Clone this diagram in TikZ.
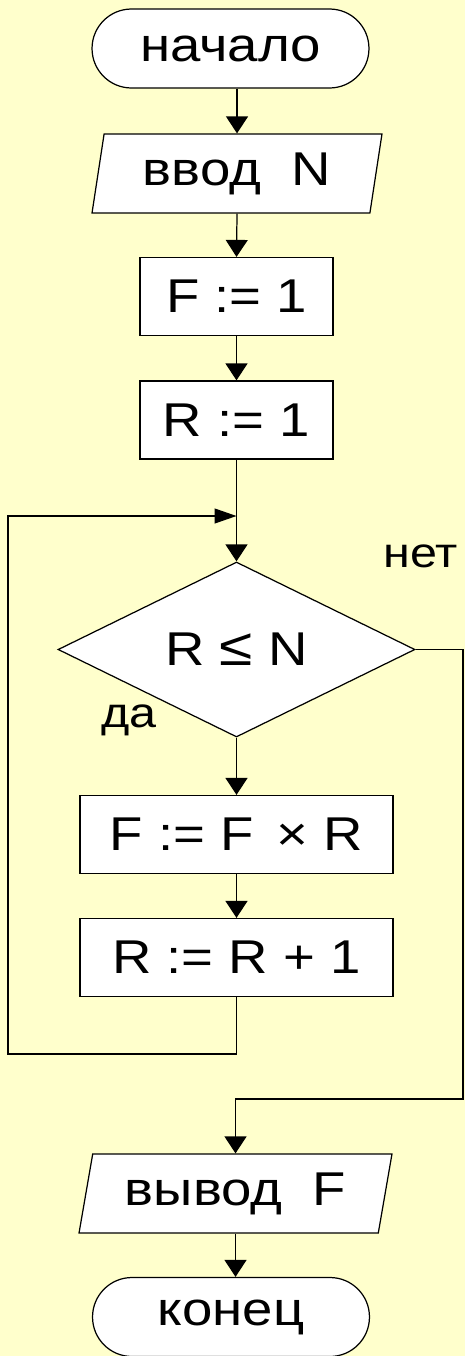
\documentclass[tikz,border=0pt]{standalone}
\usepackage{fontspec}
\setmainfont{Liberation Sans}[FakeStretch=1.15]
\usepackage{tikz}
\usetikzlibrary{arrows.meta,positioning,shapes.geometric,shapes.misc}

\definecolor{bgyellow}{HTML}{FFFFCC}

\begin{document}
\begin{tikzpicture}[
  x=0.02cm, y=-0.02cm,
  term/.style={draw, rounded rectangle, fill=white, line width=0.7pt,
               minimum width=5.54cm, minimum height=1.58cm,
               font=\fontsize{27}{32}\selectfont, inner sep=0pt},
  io/.style={draw, trapezium, trapezium stretches body, fill=white,
             line width=0.7pt, minimum height=1.58cm,
             font=\fontsize{27}{32}\selectfont, inner sep=0pt},
  proc/.style={draw, rectangle, fill=white, line width=0.7pt,
               minimum width=3.86cm, minimum height=1.56cm,
               font=\fontsize{27}{32}\selectfont, inner sep=0pt},
  cond/.style={draw, diamond, fill=white, line width=0.7pt,
               minimum width=7.14cm, minimum height=3.1cm,
               font=\fontsize{27}{32}\selectfont, inner sep=0pt},
  lbl/.style={font=\fontsize{24}{28}\selectfont, inner sep=0pt},
  arr/.style={-{Triangle[length=0.34cm, width=0.44cm]}, line width=0.7pt},
  arrh/.style={-{Triangle[length=0.44cm, width=0.3cm]}, line width=0.7pt},
]

%% ---- Background ----
\fill[bgyellow] (0,0) rectangle (465,1356);
\useasboundingbox (0,0) rectangle (465,1356);

%% ---- Start and input ----
\node[term] (start) at (230.5, 48.5) {начало};
\node[io, minimum width=5.8cm, trapezium left angle=74,
      trapezium right angle=106] (inp) at (237, 173.5) {ввод\ \ N};

\draw[arr] (start.south -| inp.north) -- (inp.north);

%% ---- Initial values ----
\node[proc] (fset) at (236.5, 296.5) {F := 1};
\node[proc] (rset) at (236.5, 420) {R := 1};

\draw[arr] (inp.south) -- (fset.north);
\draw[arr] (fset.south) -- (rset.north);

%% ---- Loop condition ----
\node[cond] (test) at (236.5, 649.5) {R {\fontsize{30}{32}\selectfont ≤} N};
\coordinate (join) at (236.5, 516);

\draw[arr] (rset.south) -- (test.north);

\node[lbl] (no)  at (421, 556) {нет};
\node[lbl] (yes) at (129, 720) {да};

%% ---- Loop body ----
\node[proc, minimum width=6.26cm] (mult) at (236.5, 834.5) {F := F \,× R};
\node[proc, minimum width=6.26cm] (incr) at (236.5, 957.5) {R := R + 1};

\draw[arr] (test.south) -- (mult.north);
\draw[arr] (mult.south) -- (incr.north);

\coordinate (back) at (8, 1054);
\draw[arrh] (incr.south) |- (back) |- (join);

%% ---- Output and end ----
\node[io, minimum width=6.26cm, trapezium left angle=72,
      trapezium right angle=108] (outp) at (235.5, 1193.5) {вывод\ \ F};
\node[term] (stop) at (231, 1317) {конец};

\coordinate (exit) at (463, 1099);
\draw[arr] (test.east) -| (exit) -| (outp.north);
\draw[arr] (outp.south) -- (stop.north -| outp.south);

\end{tikzpicture}
\end{document}
